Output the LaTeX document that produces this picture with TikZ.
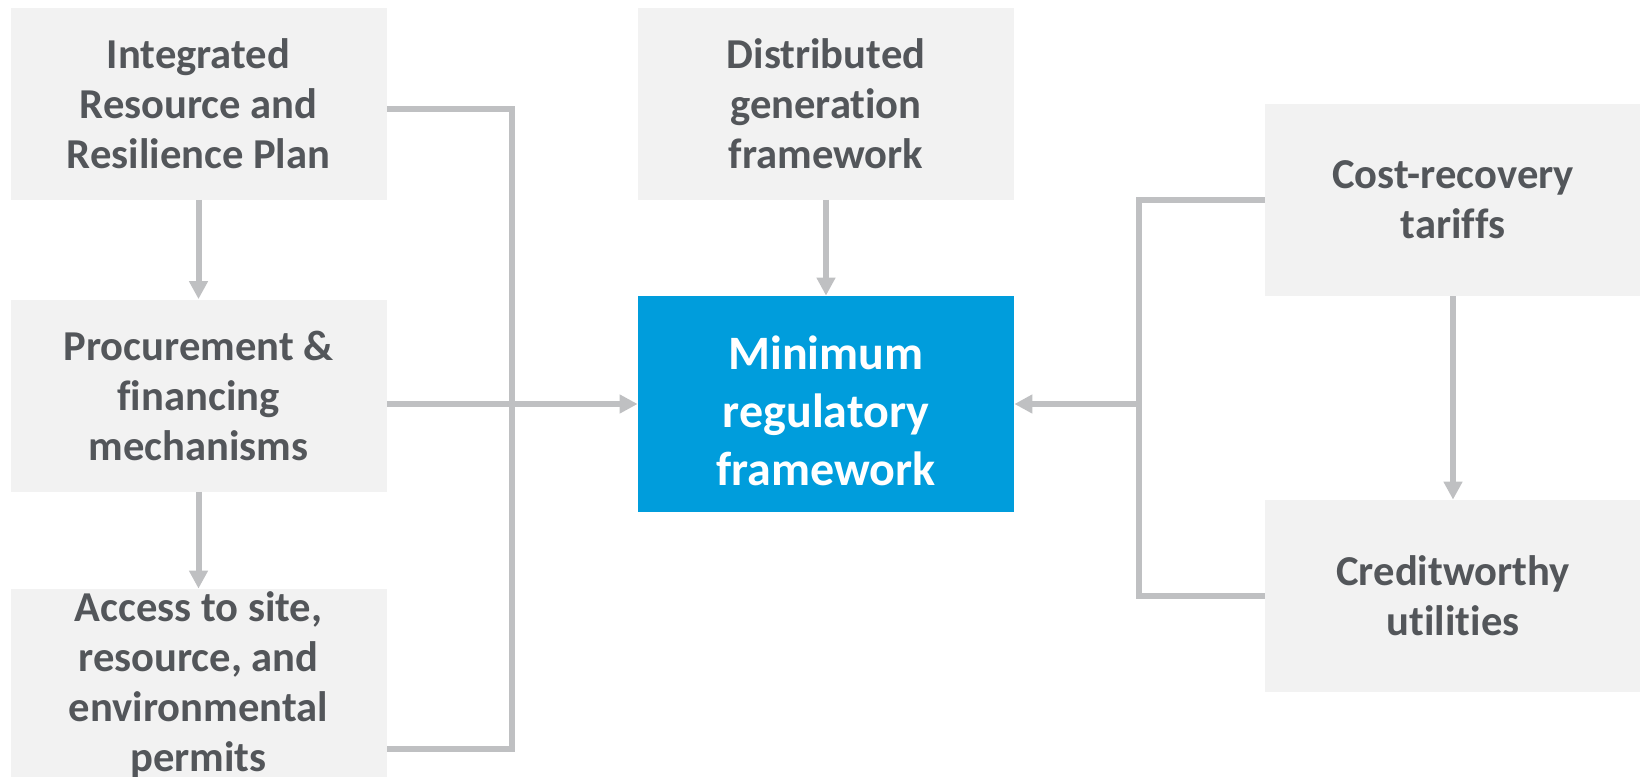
\documentclass[tikz,border=0pt]{standalone}
\usepackage{fontspec}
\setmainfont{Carlito}[Ligatures=CommonOff]
\usepackage{xcolor}
\definecolor{boxgray}{RGB}{242,242,242}
\definecolor{linegray}{RGB}{191,192,194}
\definecolor{textgray}{RGB}{83,86,90}
\definecolor{primary}{RGB}{0,157,220}
\usepackage{tikz}
\usetikzlibrary{arrows.meta, positioning, calc}

\begin{document}
\begin{tikzpicture}[x=0.5pt, y=-0.5pt,
    block/.style={fill=boxgray, text=textgray, align=center, inner sep=0pt,
        minimum width=188pt, minimum height=96pt,
        font=\fontsize{21.3}{25}\selectfont\bfseries},
    core/.style={block, fill=primary, text=white, minimum height=108pt,
        text height=82pt, font=\fontsize{24}{29}\selectfont\bfseries},
    link/.style={draw=linegray, line width=3pt},
    flow/.style={link, -{Triangle[length=9pt, width=9pt]}}]
        \useasboundingbox (0,0) rectangle (1640,777);

        % Left column
        \node[block] (irrp) at (198.5, 103.5) {Integrated\\Resource and\\Resilience Plan};
        \node[block] (proc) at (198.5, 395.5) {Procurement \&\\financing\\mechanisms};
        \node[block] (access) at (198.5, 685) {Access to site,\\resource, and\\environmental\\permits};

        % Middle column
        \node[block] (dgf) at (826, 103.5) {Distributed\\generation\\framework};
        \node[core] (mrf) at (826, 404) {Minimum\\regulatory\\framework};

        % Right column
        \node[block] (cost) at (1453, 200) {Cost-recovery\\tariffs};
        \node[block] (credit) at (1453, 596) {Creditworthy\\utilities};

        % Downward arrows
        \draw[flow] (irrp) -- (proc);
        \draw[flow] (proc) -- (access);
        \draw[flow] (dgf) -- (mrf);
        \draw[flow] (cost) -- (credit);

        % Left bracket into the framework
        \coordinate (ltop) at (512, 109);
        \coordinate (lbot) at (512, 749);
        \draw[link] (irrp.east |- ltop) -- (ltop) -- (lbot) -- (access.east |- lbot);
        \draw[flow] (proc.east |- mrf.west) -- (mrf.west);

        % Right bracket into the framework
        \coordinate (rtop) at (1139, 200);
        \coordinate (rbot) at (1139, 596);
        \draw[link] (cost.west) -- (rtop) -- (rbot) -- (credit.west);
        \draw[flow] (rtop |- mrf.east) -- (mrf.east);
    \end{tikzpicture}
\end{document}
